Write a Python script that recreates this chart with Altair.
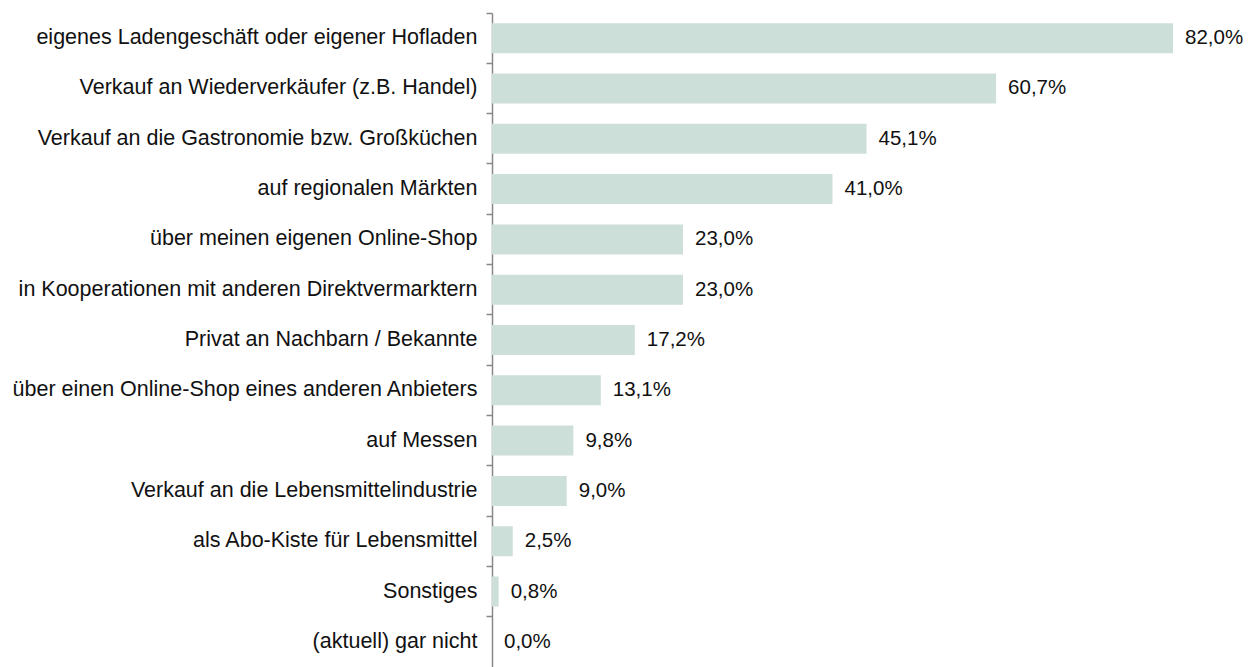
import altair as alt
import pandas as pd

categories = [
    "eigenes Ladengeschäft oder eigener Hofladen",
    "Verkauf an Wiederverkäufer (z.B. Handel)",
    "Verkauf an die Gastronomie bzw. Großküchen",
    "auf regionalen Märkten",
    "über meinen eigenen Online-Shop",
    "in Kooperationen mit anderen Direktvermarktern",
    "Privat an Nachbarn / Bekannte",
    "über einen Online-Shop eines anderen Anbieters",
    "auf Messen",
    "Verkauf an die Lebensmittelindustrie",
    "als Abo-Kiste für Lebensmittel",
    "Sonstiges",
    "(aktuell) gar nicht",
]
values = [82.0, 60.7, 45.1, 41.0, 23.0, 23.0, 17.2, 13.1, 9.8, 9.0, 2.5, 0.8, 0.0]
labels = ["82,0%", "60,7%", "45,1%", "41,0%", "23,0%", "23,0%", "17,2%", "13,1%",
          "9,8%", "9,0%", "2,5%", "0,8%", "0,0%"]

df = pd.DataFrame({"cat": categories, "val": values, "lab": labels})

FONT = "Liberation Sans"
FS = 21.5

y = alt.Y("cat:N", sort=categories, title=None,
          scale=alt.Scale(paddingInner=0, paddingOuter=0),
          axis=alt.Axis(bandPosition=0, tickSize=6, tickColor="#888888",
                        domainColor="#888888", domainWidth=1.5, tickWidth=1.5,
                        labelFont=FONT, labelFontSize=FS, labelColor="#111111",
                        labelPadding=9, labelLimit=600, grid=False))
x = alt.X("val:Q", title=None, scale=alt.Scale(domain=[0, 82], nice=False, zero=True),
          axis=None)

bars = alt.Chart(df).mark_bar(size=30, color="#cddfd9").encode(x=x, y=y)
text = alt.Chart(df).mark_text(align="left", baseline="middle", dx=12,
                               font=FONT, fontSize=20.5, color="#111111").encode(
    x=x, y=y, text="lab:N")

chart = (bars + text).properties(
    width=681, height=654,
    autosize=alt.AutoSizeParams(type="none"),
    padding={"left": 484, "top": 5, "right": 70, "bottom": 0},
).configure(background="white").configure_view(stroke=None, strokeWidth=0)

chart.save("out.html", embed_options={"renderer": "svg", "actions": False})
